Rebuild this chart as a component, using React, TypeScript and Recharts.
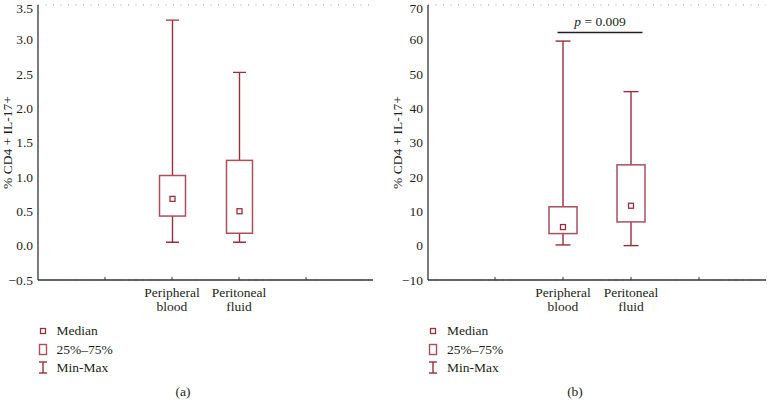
import React from "react";
import {
  ComposedChart,
  Bar,
  XAxis,
  YAxis,
  CartesianGrid,
  ReferenceLine,
} from "recharts";

// ---- data ----
const categories = ["Peripheral blood", "Peritoneal fluid"];
const categoryLines = [
  ["Peripheral", "blood"],
  ["Peritoneal", "fluid"],
];
const slots = ["pad-left", "Peripheral blood", "Peritoneal fluid", "pad-right"];

// panel (a)
const aMin = [0.05, 0.05];
const aQ1 = [0.43, 0.18];
const aMedian = [0.68, 0.5];
const aQ3 = [1.02, 1.24];
const aMax = [3.28, 2.52];
const aTicks = [-0.5, 0, 0.5, 1.0, 1.5, 2.0, 2.5, 3.0, 3.5];

// panel (b)
const bMin = [0.2, 0.0];
const bQ1 = [3.5, 6.9];
const bMedian = [5.4, 11.6];
const bQ3 = [11.3, 23.5];
const bMax = [59.5, 44.8];
const bTicks = [-10, 0, 10, 20, 30, 40, 50, 60, 70];
const bPValueLabel = "0.009";
const bPValueY = 62;

const legendItems = ["Median", "25%–75%", "Min-Max"];
const axisTitle = "% CD4 + IL-17+";

const FONT = "'Liberation Serif', 'Times New Roman', serif";
const WHISKER = "#9a2f3b";
const BOX = "#a9505b";
const TEXT = "#231f20";

function buildRows(mn: number[], q1: number[], md: number[], q3: number[], mx: number[]) {
  return slots.map((name) => {
    const i = categories.indexOf(name);
    if (i < 0) return { name, range: null, q1: null, median: null, q3: null };
    return { name, range: [mn[i], mx[i]], min: mn[i], max: mx[i], q1: q1[i], median: md[i], q3: q3[i] };
  });
}

const rowsA = buildRows(aMin, aQ1, aMedian, aQ3, aMax);
const rowsB = buildRows(bMin, bQ1, bMedian, bQ3, bMax);

function makeBoxShape(capWidth: number) {
  return (props: any) => {
    const { x, y, width, height, payload } = props;
    if (!payload || payload.median == null || height == null || isNaN(height)) return <g />;
    const top = Math.min(y, y + height);
    const bottom = Math.max(y, y + height);
    const { min, max, q1, q3, median } = payload;
    const pix = (v: number) => top + ((max - v) / (max - min)) * (bottom - top);
    const cx = x + width / 2;
    const yQ1 = pix(q1);
    const yQ3 = pix(q3);
    const yMed = pix(median);
    return (
      <g>
        <line x1={cx} x2={cx} y1={top} y2={yQ3} stroke={WHISKER} strokeWidth={1.4} />
        <line x1={cx} x2={cx} y1={yQ1} y2={bottom} stroke={WHISKER} strokeWidth={1.4} />
        <line x1={cx - capWidth / 2} x2={cx + capWidth / 2} y1={top} y2={top} stroke={WHISKER} strokeWidth={1.4} />
        <line x1={cx - capWidth / 2} x2={cx + capWidth / 2} y1={bottom} y2={bottom} stroke={WHISKER} strokeWidth={1.4} />
        <rect x={x} y={yQ3} width={width} height={yQ1 - yQ3} fill="#fff" stroke={BOX} strokeWidth={1.5} />
        <rect x={cx - 2.5} y={yMed - 2.5} width={5} height={5} fill="#fff" stroke={WHISKER} strokeWidth={1.3} />
      </g>
    );
  };
}

const BottomTick = (props: any) => {
  const { x, y, payload } = props;
  const i = categories.indexOf(payload.value);
  return (
    <g>
      <line x1={x} x2={x} y1={y} y2={y - 3} stroke="#333" strokeWidth={1} />
      {i >= 0 && (
        <text x={x} y={y} textAnchor="middle" fontFamily={FONT} fontSize={13.5} fill={TEXT}>
          <tspan x={x} dy={16.5}>{categoryLines[i][0]}</tspan>
          <tspan x={x} dy={14.7}>{categoryLines[i][1]}</tspan>
        </text>
      )}
    </g>
  );
};

const TopTick = (props: any) => {
  const { x, y } = props;
  return <line x1={x} x2={x} y1={y} y2={y + 3} stroke="#555" strokeWidth={1} />;
};

const fmtA = (v: number) => (v < 0 ? "−" + Math.abs(v).toFixed(1) : v.toFixed(1));
const fmtB = (v: number) => (v < 0 ? "−" + Math.abs(v) : String(v));

const PLine = (props: any) => {
  const { x1, x2, y1 } = props;
  if (x1 == null || isNaN(x1)) return <g />;
  const left = x1 - 5.5;
  const right = x2 + 11.5;
  return (
    <g>
      <line x1={left} x2={right} y1={y1} y2={y1} stroke="#222" strokeWidth={1.6} />
      <text x={(left + right) / 2} y={y1 - 6.5} textAnchor="middle" fontFamily={FONT} fontSize={13.5} fill={TEXT}>
        <tspan fontStyle="italic">p</tspan>
        <tspan> = {bPValueLabel}</tspan>
      </text>
    </g>
  );
};

function Panel(props: {
  rows: any[];
  ticks: number[];
  fmt: (v: number) => string;
  width: number;
  yAxisWidth: number;
  marginRight: number;
  padding: number;
  barSize: number;
  capWidth: number;
  labelDx: number;
  withP?: boolean;
}) {
  const { rows, ticks, fmt, width, yAxisWidth, marginRight, padding, barSize, capWidth, labelDx, withP } = props;
  const domain = [ticks[0], ticks[ticks.length - 1]];
  return (
    <ComposedChart
      width={width}
      height={320}
      data={rows}
      margin={{ top: 5, right: marginRight, left: 0, bottom: 0 }}
    >
      <CartesianGrid vertical={false} stroke="#999" strokeDasharray="1 6.5" />
      <XAxis
        dataKey="name"
        xAxisId="bottom"
        orientation="bottom"
        height={40}
        padding={{ left: padding, right: padding }}
        axisLine={{ stroke: "#333", strokeWidth: 1.3 }}
        tickLine={false}
        tickSize={0}
        tickMargin={0}
        tick={<BottomTick />}
        interval={0}
      />
      <XAxis
        dataKey="name"
        xAxisId="top"
        orientation="top"
        height={0}
        padding={{ left: padding, right: padding }}
        axisLine={{ stroke: "#666", strokeWidth: 1 }}
        tickLine={false}
        tickSize={0}
        tickMargin={0}
        tick={<TopTick />}
        interval={0}
      />
      <YAxis
        yAxisId="left"
        width={yAxisWidth}
        domain={domain}
        ticks={ticks}
        type="number"
        allowDataOverflow
        tickFormatter={fmt}
        axisLine={{ stroke: "#333", strokeWidth: 1.3 }}
        tickLine={false}
        tickSize={0}
        tickMargin={5}
        tick={{ fontFamily: FONT, fontSize: 13.5, fill: TEXT }}
        label={{
          value: axisTitle,
          angle: -90,
          position: "center",
          dx: labelDx,
          style: { fontFamily: FONT, fontSize: 13.5, fill: TEXT, textAnchor: "middle" },
        }}
      />
      <YAxis
        yAxisId="right"
        orientation="right"
        width={0}
        domain={domain}
        ticks={ticks}
        type="number"
        allowDataOverflow
        axisLine={{ stroke: "#666", strokeWidth: 1 }}
        tickLine={false}
        tick={false}
      />
      <Bar
        dataKey="range"
        xAxisId="bottom"
        yAxisId="left"
        barSize={barSize}
        isAnimationActive={false}
        shape={makeBoxShape(capWidth)}
      />
      {withP && (
        <ReferenceLine
          xAxisId="bottom"
          yAxisId="left"
          segment={[
            { x: categories[0], y: bPValueY },
            { x: categories[1], y: bPValueY },
          ]}
          shape={<PLine />}
          ifOverflow="visible"
        />
      )}
    </ComposedChart>
  );
}

function Legend(props: { left: number }) {
  const { left } = props;
  const rowsY = [331, 349.5, 368];
  return (
    <>
      {legendItems.map((label, i) => (
        <div key={label} style={{ position: "absolute", left, top: rowsY[i] - 10, height: 20, display: "flex", alignItems: "center" }}>
          <svg width={14} height={20} style={{ display: "block" }}>
            {i === 0 && <rect x={4.5} y={7.5} width={5} height={5} fill="#fff" stroke={WHISKER} strokeWidth={1.3} />}
            {i === 1 && <rect x={3.5} y={4.5} width={7} height={10} fill="#fff" stroke={BOX} strokeWidth={1.4} />}
            {i === 2 && (
              <g stroke={WHISKER} strokeWidth={1.4}>
                <line x1={7} x2={7} y1={4} y2={15} />
                <line x1={3} x2={11} y1={4} y2={4} />
                <line x1={3} x2={11} y1={15} y2={15} />
              </g>
            )}
          </svg>
          <span style={{ marginLeft: 7, fontFamily: FONT, fontSize: 13.5, color: TEXT, whiteSpace: "nowrap" }}>{label}</span>
        </div>
      ))}
    </>
  );
}

export default function App() {
  return (
    <div style={{ position: "absolute", left: 0, top: 0, width: 767, height: 412, background: "#fff", overflow: "hidden" }}>
      <div style={{ position: "absolute", left: 0, top: 0 }}>
        <Panel
          rows={rowsA}
          ticks={aTicks}
          fmt={fmtA}
          width={380}
          yAxisWidth={38}
          marginRight={7}
          padding={33.5}
          barSize={26}
          capWidth={13}
          labelDx={-11.5}
        />
      </div>
      <div style={{ position: "absolute", left: 385, top: 0 }}>
        <Panel
          rows={rowsB}
          ticks={bTicks}
          fmt={fmtB}
          width={382}
          yAxisWidth={43}
          marginRight={1}
          padding={33}
          barSize={28}
          capWidth={15}
          labelDx={-9.5}
          withP
        />
      </div>
      <Legend left={35.5} />
      <Legend left={426} />
      <div style={{ position: "absolute", left: 163, top: 384, width: 40, textAlign: "center", fontFamily: FONT, fontSize: 13.5, color: TEXT }}>(a)</div>
      <div style={{ position: "absolute", left: 555, top: 384, width: 40, textAlign: "center", fontFamily: FONT, fontSize: 13.5, color: TEXT }}>(b)</div>
    </div>
  );
}
